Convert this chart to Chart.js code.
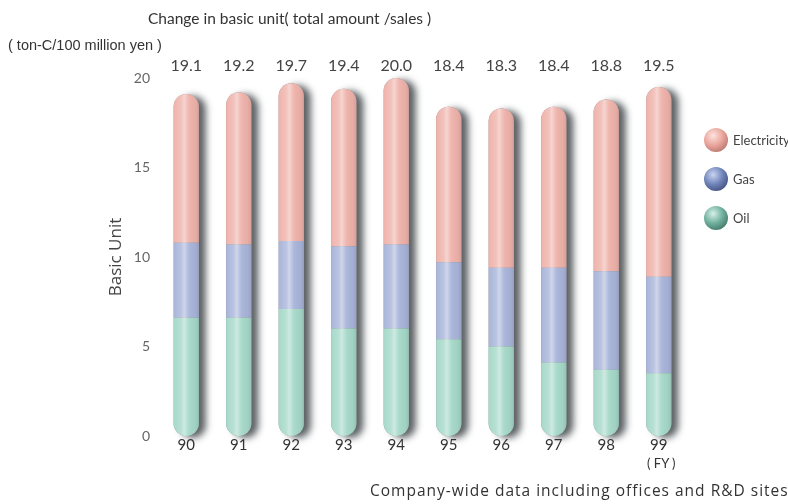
<!DOCTYPE html>
<html>
<head>
<meta charset="utf-8">
<script src="https://cdn.jsdelivr.net/npm/chart.js@4"></script>
<style>
  html, body { margin: 0; padding: 0; background: #fff; }
  #wrap { position: relative; width: 788px; height: 504px; font-family: "Lato", "Open Sans", sans-serif; color: #444; }
  #wrap canvas { position: absolute; left: 0; top: 0; }
  .txt { position: absolute; white-space: nowrap; }
  #title { left: 148px; top: 9px; font-size: 15.5px; color: #333; }
  #unit { left: 8px; top: 37px; font-size: 14.5px; font-family: "Liberation Sans Narrow", "Liberation Sans", sans-serif; font-stretch: condensed; color: #333; }
  #fy { left: 647px; top: 455px; font-size: 13px; color: #333; }
  #note { left: 370px; top: 479px; font-size: 15.5px; font-family: "Open Sans", "Lato", sans-serif; letter-spacing: 1px; color: #333; }
  .leg { position: absolute; left: 704px; height: 24px; line-height: 24px; font-size: 13px; color: #444; }
  .leg i { position: absolute; left: 0; top: 0; width: 24px; height: 24px; border-radius: 50%; }
  .leg span { position: absolute; left: 29px; top: 0; }
</style>
</head>
<body>
<div id="wrap">
  <canvas id="c" width="788" height="504"></canvas>
  <div class="txt" id="title">Change in basic unit( total amount /sales )</div>
  <div class="txt" id="unit">( ton-C/100 million yen )</div>
  <div class="txt" id="fy">( FY )</div>
  <div class="txt" id="note">Company-wide data including offices and R&amp;D sites</div>
  <div id="legend"></div>
</div>
<script>
// 年度
const years = ['90', '91', '92', '93', '94', '95', '96', '97', '98', '99'];
// 各エネルギー別の原単位 (ton-C/1億円)
const oil = [6.6, 6.6, 7.1, 6.0, 6.0, 5.4, 5.0, 4.1, 3.7, 3.5];
const gas = [4.2, 4.1, 3.8, 4.6, 4.7, 4.3, 4.4, 5.3, 5.5, 5.4];
const electricity = [8.3, 8.5, 8.8, 8.8, 9.3, 8.7, 8.9, 9.0, 9.6, 10.6];
// 棒の上に表示する合計値
const totals = ['19.1', '19.2', '19.7', '19.4', '20.0', '18.4', '18.3', '18.4', '18.8', '19.5'];
const yTicks = [0, 5, 10, 15, 20];

const colors = { electricity: '#efb3ab', gas: '#a9b5da', oil: '#a6d9c9' };
const legendItems = [
  { label: 'Electricity', sphere: 'radial-gradient(circle at 38% 32%, #fde3de 0%, #e9a49b 45%, #9b5f58 100%)' },
  { label: 'Gas', sphere: 'radial-gradient(circle at 38% 32%, #c9d4f2 0%, #6f83b8 45%, #2c3660 100%)' },
  { label: 'Oil', sphere: 'radial-gradient(circle at 38% 32%, #d5f0e8 0%, #6fae9c 45%, #2c5a4e 100%)' }
];

// 凡例 (HTML)
document.getElementById('legend').innerHTML = legendItems.map((l, i) =>
  `<div class="leg" style="top:${128 + i * 39}px"><i style="background:${l.sphere}"></i><span>${l.label}</span></div>`
).join('');

function pillPath(ctx, x, top, bottom, w) {
  const r = w / 2;
  ctx.beginPath();
  ctx.moveTo(x - r, top + r);
  ctx.arc(x, top + r, r, Math.PI, 0);
  ctx.lineTo(x + r, bottom - r);
  ctx.arc(x, bottom - r, r, 0, Math.PI);
  ctx.closePath();
}

function barBounds(chart, i) {
  const low = chart.getDatasetMeta(0).data[i].getProps(['x', 'base', 'width'], true);
  const high = chart.getDatasetMeta(2).data[i].getProps(['y'], true);
  return { x: low.x, w: low.width, top: high.y, bottom: low.base };
}

// 影とハイライトを描くプラグイン
const tubePlugin = {
  id: 'tube',
  beforeDatasetsDraw(chart) {
    const ctx = chart.ctx;
    ctx.save();
    ctx.shadowColor = 'rgba(40,45,50,0.75)';
    ctx.shadowBlur = 7;
    ctx.shadowOffsetX = 7;
    ctx.shadowOffsetY = 2;
    ctx.fillStyle = '#888';
    years.forEach((_, i) => {
      const b = barBounds(chart, i);
      pillPath(ctx, b.x, b.top, b.bottom, b.w);
      ctx.fill();
    });
    ctx.restore();
  },
  afterDatasetsDraw(chart) {
    const ctx = chart.ctx;
    years.forEach((_, i) => {
      const b = barBounds(chart, i);
      const l = b.x - b.w / 2;
      ctx.save();
      pillPath(ctx, b.x, b.top, b.bottom, b.w);
      ctx.clip();
      const g = ctx.createLinearGradient(l, 0, l + b.w, 0);
      g.addColorStop(0, 'rgba(255,255,255,0)');
      g.addColorStop(0.3, 'rgba(255,255,255,0.2)');
      g.addColorStop(0.42, 'rgba(255,255,255,0.45)');
      g.addColorStop(0.6, 'rgba(255,255,255,0.05)');
      g.addColorStop(0.85, 'rgba(0,0,0,0.03)');
      g.addColorStop(1, 'rgba(0,0,0,0.1)');
      ctx.fillStyle = g;
      ctx.fillRect(l, b.top, b.w, b.bottom - b.top);
      ctx.restore();
    });
    // 合計値
    ctx.save();
    ctx.font = '16px Lato, "Open Sans", sans-serif';
    ctx.fillStyle = '#444';
    ctx.textAlign = 'center';
    ctx.textBaseline = 'middle';
    totals.forEach((t, i) => {
      const b = barBounds(chart, i);
      ctx.fillText(t, b.x, chart.chartArea.top - 12);
    });
    ctx.restore();
  }
};

const seg = (label, data, color, radius) => ({
  label, data, backgroundColor: color, borderWidth: 0, borderSkipped: false,
  borderRadius: radius, categoryPercentage: 1, barPercentage: 0.48
});

new Chart(document.getElementById('c'), {
  type: 'bar',
  data: {
    labels: years,
    datasets: [
      seg('Oil', oil, colors.oil, { bottomLeft: 13, bottomRight: 13, topLeft: 0, topRight: 0 }),
      seg('Gas', gas, colors.gas, 0),
      seg('Electricity', electricity, colors.electricity, { topLeft: 13, topRight: 13, bottomLeft: 0, bottomRight: 0 })
    ]
  },
  options: {
    responsive: false,
    animation: false,
    layout: { padding: { left: 100, right: 103, top: 78, bottom: 46 } },
    plugins: { legend: { display: false }, tooltip: { enabled: false } },
    scales: {
      x: {
        stacked: true,
        grid: { display: false, drawTicks: false },
        border: { display: false },
        ticks: { color: '#333', font: { family: 'Lato, "Open Sans", sans-serif', size: 15 }, padding: 0 },
        afterFit(s) { s.height = 22; }
      },
      y: {
        stacked: true,
        min: 0,
        max: 20,
        afterBuildTicks(s) { s.ticks = yTicks.map(v => ({ value: v })); },
        grid: { display: false, drawTicks: false },
        border: { display: false },
        ticks: { color: '#666', font: { family: 'Lato, "Open Sans", sans-serif', size: 14 }, padding: 10 },
        title: { display: true, text: 'Basic Unit', color: '#444', font: { family: '"Open Sans", Lato, sans-serif', size: 17 }, padding: { top: 6, bottom: 0 } },
        afterFit(s) { s.width = 60; }
      }
    }
  },
  plugins: [tubePlugin]
});
</script>
</body>
</html>
